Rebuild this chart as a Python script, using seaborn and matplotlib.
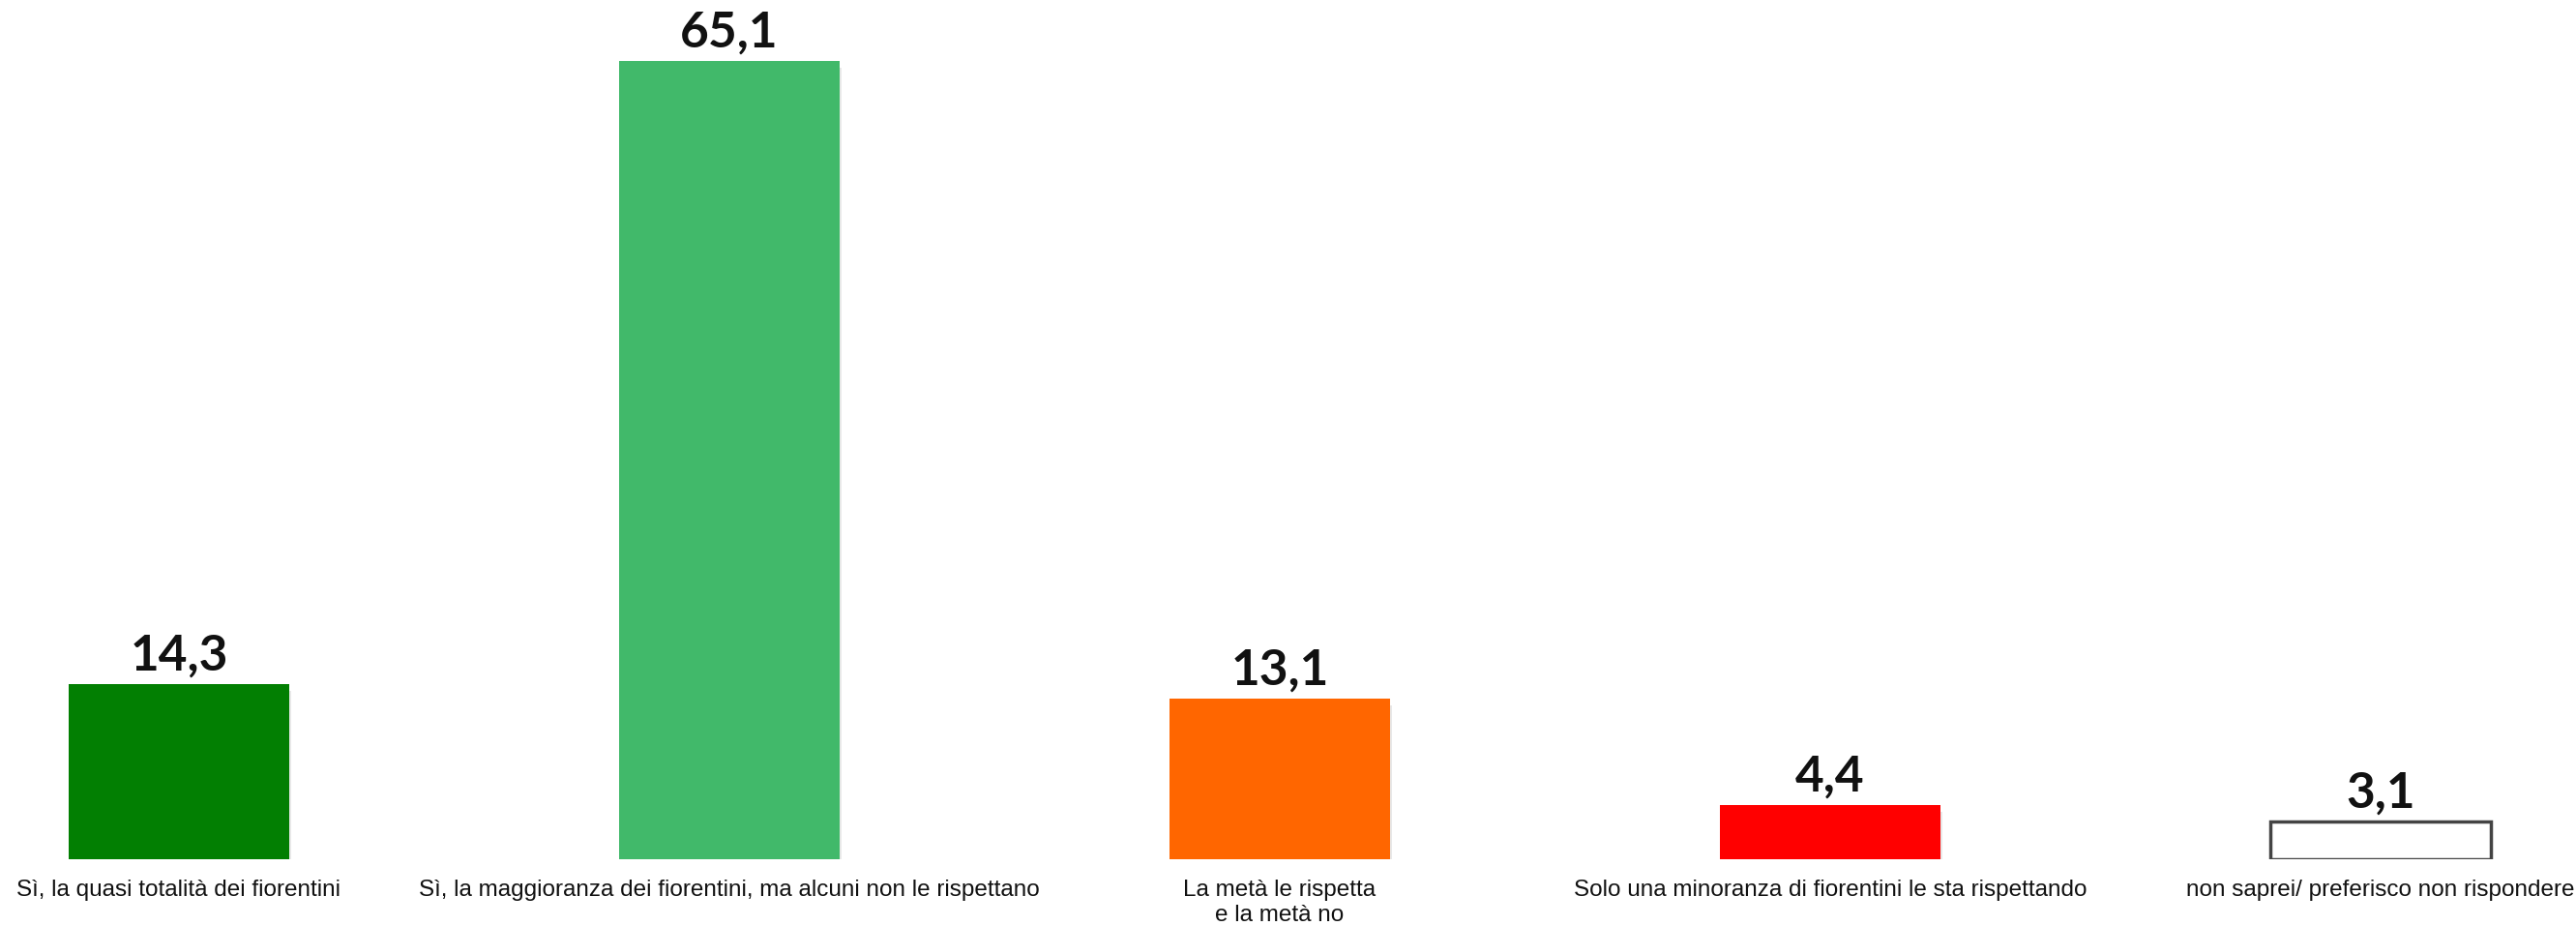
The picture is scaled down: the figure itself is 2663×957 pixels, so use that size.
import matplotlib
matplotlib.use("Agg")
import matplotlib.pyplot as plt
import matplotlib.patheffects as pe
import pandas as pd
import seaborn as sns

# data
categories = [
    "Sì, la quasi totalità dei fiorentini",
    "Sì, la maggioranza dei fiorentini, ma alcuni non le rispettano",
    "La metà le rispetta\ne la metà no",
    "Solo una minoranza di fiorentini le sta rispettando",
    "non saprei/ preferisco non rispondere",
]
values = [14.3, 65.1, 13.1, 4.4, 3.1]
value_labels = ["14,3", "65,1", "13,1", "4,4", "3,1"]
colors = ["#027F02", "#41B96A", "#FF6600", "#FF0000", "#FFFFFF"]

df = pd.DataFrame({"cat": categories, "val": values})

sns.set_theme(style="white")
fig = plt.figure(figsize=(26.63, 9.57), dpi=100)
ax = fig.add_axes([0, 0.072, 1, 0.928])

sns.barplot(data=df, x="cat", y="val", hue="cat", palette=colors,
            width=0.4, legend=False, ax=ax, saturation=1)

# soft drop shadow, a few offset copies
shadow = [pe.SimplePatchShadow(offset=(0, -7), shadow_rgbFace="#000000", alpha=0.06),
          pe.SimplePatchShadow(offset=(1.5, -5), shadow_rgbFace="#000000", alpha=0.09),
          pe.SimplePatchShadow(offset=(0.5, -3), shadow_rgbFace="#000000", alpha=0.14),
          pe.Normal()]
for i, p in enumerate(ax.patches):
    p.set_linewidth(0)
    p.set_path_effects(shadow)
    if i == 4:
        p.set_edgecolor("#444444")
        p.set_linewidth(2.5)

for i, (v, lab) in enumerate(zip(values, value_labels)):
    ax.annotate(lab, (i, v), xytext=(0, 4), textcoords="offset points",
                ha="center", va="bottom", fontsize=37, fontweight="bold",
                family="Lato", color="#111111")

ax.set_xlim(-0.325, 4.355)
ax.set_ylim(0, 70.08)
ax.set_xlabel("")
ax.set_ylabel("")
ax.set_yticks([])
ax.tick_params(axis="x", length=0, pad=15)
ax.set_xticks(range(len(categories)))
ax.set_xticklabels(categories, fontsize=17.5, family="Liberation Sans",
                   color="#111111", linespacing=1.25)
for s in ax.spines.values():
    s.set_visible(False)

fig.savefig("out.png", dpi=100)
